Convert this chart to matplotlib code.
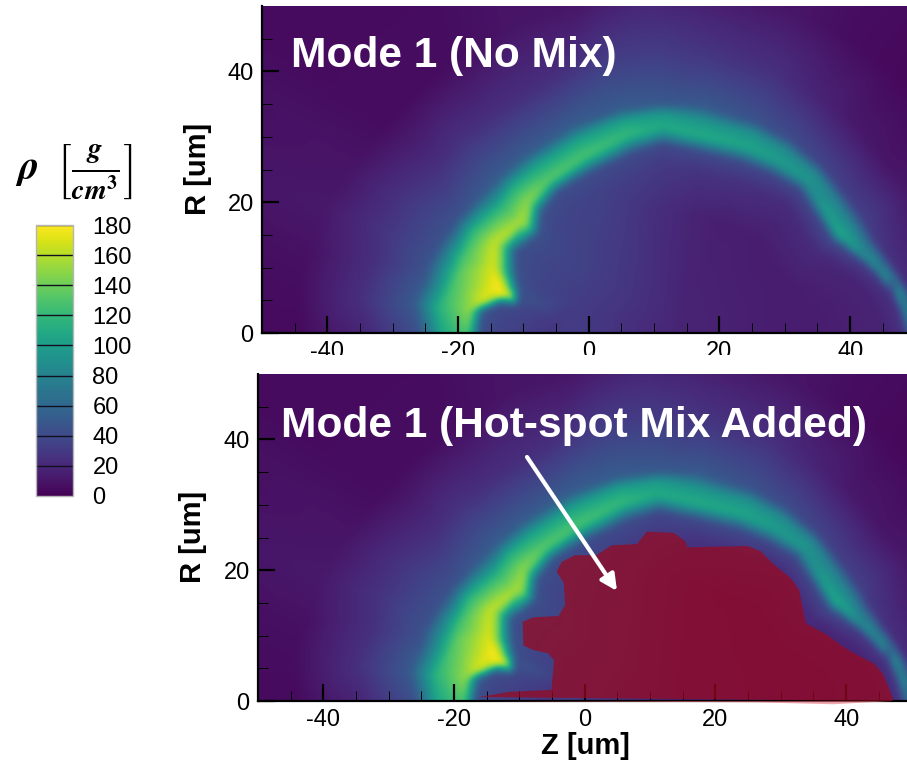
# density map, two panels sharing one field
import numpy as np
import matplotlib
matplotlib.use('Agg')
import matplotlib.pyplot as plt
import matplotlib.tri as mtri
from matplotlib.patches import Polygon, Rectangle, FancyArrowPatch

plt.rcParams['font.family'] = ['Liberation Sans', 'DejaVu Sans']
plt.rcParams['mathtext.fontset'] = 'stix'
plt.rcParams['axes.unicode_minus'] = False

# DATA
# ============================================================================
W, H = 907, 761
z_ticks = [-40, -20, 0, 20, 40]
r_ticks = [0, 20, 40]
cbar_ticks = list(range(0, 181, 20))
title_top = 'Mode 1 (No Mix)'
title_bottom = 'Mode 1 (Hot-spot Mix Added)'

# samples of the shell, taken along rays from the point (z=14, r=0)
ray_origin = (14.0, 0.0)
ray_angle = [180, 174, 171, 168, 165, 161, 154, 145, 139, 131, 118, 105, 95, 84, 70, 60, 50, 40, 31, 26, 20, 15, 10, 5, 0]
ray_inner = [30.7, 30.3, 28.0, 23.0, 25.5, 26.4, 28.0, 26.3, 28.0, 28.5, 28.0, 28.5, 29.0, 27.9, 27.8, 28.0, 28.5, 27.5, 27.3, 28.5, 30.2, 31.6, 33.0, 33.8, 34.5]
ray_crest = [32.7, 32.5, 30.5, 28.0, 28.8, 30.3, 31.5, 29.6, 31.0, 31.0, 31.0, 31.7, 31.9, 30.5, 30.5, 30.5, 30.6, 29.2, 28.9, 29.8, 31.4, 32.6, 34.1, 35.0, 36.0]
ray_outer = [40.0, 41.0, 40.5, 40.0, 40.0, 39.5, 38.5, 37.0, 36.5, 36.0, 35.6, 35.4, 35.2, 34.8, 34.3, 34.0, 33.5, 33.0, 33.0, 33.0, 33.8, 34.8, 36.0, 37.0, 38.0]

# rho at: mid interior, inner foot-3, inner foot, inner shoulder, crest,
# outer shoulder, outer foot, outer foot+8, outer foot+18, far field
ray_rho = [
    [28, 36, 42, 115, 130, 105, 45, 20, 5, 4],
    [30, 38, 45, 130, 150, 115, 50, 25, 6, 4],
    [31, 38, 45, 150, 170, 125, 50, 25, 7, 4],
    [32, 38, 45, 165, 182, 135, 48, 25, 8, 4],
    [33, 38, 45, 160, 180, 135, 46, 25, 10, 4],
    [33, 38, 44, 150, 170, 125, 45, 28, 12, 5],
    [35, 39, 44, 145, 165, 118, 45, 28, 10, 4],
    [35, 39, 44, 145, 158, 115, 50, 24, 6, 4],
    [34, 38, 44, 138, 148, 110, 52, 26, 6, 4],
    [33, 37, 42, 122, 134, 104, 52, 24, 6, 4],
    [30, 35, 42, 118, 128, 102, 52, 24, 10, 4],
    [25, 33, 42, 112, 120, 100, 52, 32, 10, 4],
    [22, 30, 40, 102, 110, 96, 50, 32, 15, 4],
    [18, 27, 40, 100, 110, 92, 50, 28, 12, 4],
    [15, 26, 40, 98, 106, 90, 46, 25, 10, 4],
    [15, 24, 38, 92, 100, 86, 42, 18, 6, 4],
    [14, 22, 38, 88, 96, 82, 38, 12, 4, 4],
    [14, 22, 38, 92, 100, 80, 34, 10, 4, 4],
    [14, 22, 40, 100, 108, 80, 34, 12, 6, 4],
    [14, 20, 38, 90, 98, 72, 30, 10, 6, 4],
    [14, 19, 32, 80, 90, 64, 26, 8, 5, 4],
    [14, 18, 30, 78, 90, 62, 24, 9, 5, 4],
    [14, 18, 27, 75, 90, 60, 22, 10, 5, 4],
    [14, 18, 27, 72, 88, 56, 22, 10, 5, 4],
    [14, 18, 27, 65, 80, 50, 22, 10, 5, 4],
]
rho_at_origin = 18

# outline of the hot-spot mix region
mix_z = [-16.2, -11.5, -5.1, -4.7, -5.6, -7.9, -9.4, -9.5, -7.9, -4.0, -3.0, -3.2, -4.3, -3.5, -1.5, 1.8,
         4.1, 8.0, 9.5, 13.6, 15.4, 15.7, 24.9, 26.9, 29.0, 31.5, 32.8, 33.8, 37.1, 39.2, 41.2, 44.3, 45.6, 47.1, 47.1]
mix_r = [0.6, 1.4, 1.7, 6.2, 7.3, 7.8, 8.5, 12.1, 12.8, 13.0, 14.7, 18.0, 19.8, 21.3, 22.3, 22.3,
         23.8, 24.0, 25.9, 25.7, 24.4, 23.5, 23.7, 22.9, 20.8, 18.8, 17.0, 11.9, 10.1, 8.5, 7.3, 5.7, 4.2, 0.6, 0.0]
# ============================================================================


def build_field():
    rho = np.array(ray_rho, dtype=float)
    inner, crest, outer = np.array(ray_inner), np.array(ray_crest), np.array(ray_outer)
    radii = np.column_stack([0.6 * crest, inner - 3, inner, inner + 0.7 * (crest - inner), crest,
                             crest + 0.55 * (outer - crest), outer, outer + 8, outer + 18,
                             np.full(len(crest), 110.0)])
    ang = np.radians(ray_angle)[:, None]
    z = ray_origin[0] + radii * np.cos(ang)
    r = radii * np.sin(ang)
    zs = np.append(z.ravel(), ray_origin[0])
    rs = np.append(r.ravel(), 0.0)
    vs = np.append(rho.ravel(), rho_at_origin)
    # the R=0 line is an axis of symmetry, mirror so the blur behaves there
    keep = rs > 1e-6
    zs, rs, vs = np.r_[zs, zs[keep]], np.r_[rs, -rs[keep]], np.r_[vs, vs[keep]]

    interp = mtri.LinearTriInterpolator(mtri.Triangulation(zs, rs), vs)
    gz = np.arange(-60, 60.01, 0.25)
    gr = np.arange(-6, 56.01, 0.25)
    zz, rr = np.meshgrid(gz, gr)
    field = np.ma.filled(interp(zz, rr), 4.0)

    x = np.arange(-6, 7)
    kernel = np.exp(-0.5 * (x / 2.0) ** 2)
    kernel /= kernel.sum()
    field = np.apply_along_axis(lambda c: np.convolve(c, kernel, mode='same'), 0, field)
    field = np.apply_along_axis(lambda c: np.convolve(c, kernel, mode='same'), 1, field)
    return field, (gz[0], gz[-1], gr[0], gr[-1])


field, extent = build_field()
fig = plt.figure(figsize=(W / 100, H / 100), dpi=100)


def add_panel(left, bottom_px, z0_px, top_px):
    scale = 6.53
    ax = fig.add_axes([left / W, 1 - bottom_px / H, (W - left) / W, (bottom_px - top_px) / H])
    im = ax.imshow(field, origin='lower', extent=extent, aspect='auto', cmap='viridis',
                   vmin=0, vmax=180, interpolation='bilinear')
    ax.set_xlim(-50, (W - z0_px) / scale)
    ax.set_ylim(0, 50)
    ax.spines['top'].set_visible(False)
    ax.spines['right'].set_visible(False)
    ax.spines['left'].set_linewidth(1.6)
    ax.spines['bottom'].set_linewidth(1.6)
    ax.set_xticks(z_ticks)
    ax.set_yticks(r_ticks)
    ax.set_xticks(np.arange(-45, 50, 5), minor=True)
    ax.set_yticks(np.arange(5, 50, 5), minor=True)
    ax.tick_params(which='major', direction='in', length=12, width=1.6, labelsize=17, pad=6)
    ax.tick_params(which='minor', direction='in', length=7, width=0.7)
    return ax, im


ax1, im = add_panel(262, 333, 589, 6)
ax2, _ = add_panel(258, 701, 585, 374)

# white strip cuts the upper panel's tick labels, as in the pasted original
fig.add_artist(Rectangle((0.18, 1 - 373 / H), 0.82, 18 / H, transform=fig.transFigure,
                         facecolor='white', edgecolor='none', zorder=5))

ax2.add_patch(Polygon(np.column_stack([mix_z, mix_r]), closed=True, facecolor='#99091f', edgecolor='none',
                      alpha=0.72, zorder=3))
ax2.add_patch(Polygon(np.column_stack([[-16.2, 47.1, 38, 26], [0, 0, -0.5, -0.2]]), closed=True, facecolor='#e8707c',
                      edgecolor='none', alpha=0.6, clip_on=False, zorder=3))

fig.text(291 / W, 1 - 67 / H, title_top, color='white', fontweight='bold', fontsize=30.6, va='baseline', zorder=6)
fig.text(281 / W, 1 - 437 / H, title_bottom, color='white', fontweight='bold', fontsize=30.6, va='baseline', zorder=6)

fig.text(198 / W, 1 - 169 / H, 'R [um]', rotation=90, fontweight='bold', fontsize=21, ha='center', va='center')
fig.text(193 / W, 1 - 537 / H, 'R [um]', rotation=90, fontweight='bold', fontsize=21, ha='center', va='center')
fig.text(585 / W, 1 - 746 / H, 'Z [um]', fontweight='bold', fontsize=21, ha='center', va='center')

fig.add_artist(FancyArrowPatch((527 / W, 1 - 457 / H), (617 / W, 1 - 591 / H),
                               transform=fig.transFigure, arrowstyle='-|>', mutation_scale=24,
                               color='white', linewidth=3, shrinkA=0, shrinkB=0, zorder=6))

# colour bar
cax = fig.add_axes([36 / W, 1 - 496 / H, 37 / W, 271 / H])
cbar = fig.colorbar(im, cax=cax, ticks=cbar_ticks)
cbar.ax.tick_params(length=0, labelsize=17, pad=14)
cbar.outline.set_edgecolor('#b5b5b5')
cbar.outline.set_linewidth(1)
cax.hlines(cbar_ticks[1:], 0, 1, transform=cax.get_yaxis_transform(), color='#101020', linewidth=1)

fig.text(15 / W, 1 - 172 / H, r'$\mathbfit{\rho}\ \ \left[\frac{\mathbfit{g}}{\mathbfit{cm}^{\mathbf{3}}}\right]$',
         fontsize=29, va='center', ha='left')

plt.savefig('out.png', dpi=100)
